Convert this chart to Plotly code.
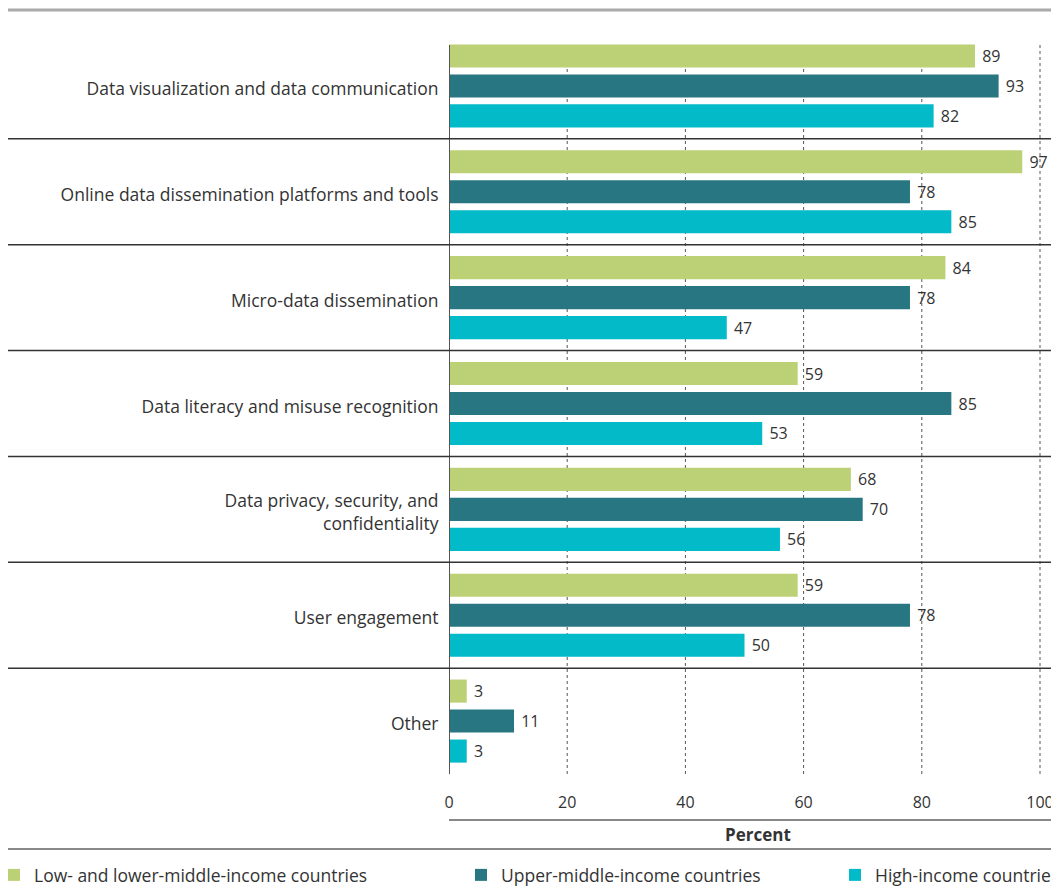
import plotly.graph_objects as go

categories = [
    "Data visualization and data communication",
    "Online data dissemination platforms and tools",
    "Micro-data dissemination",
    "Data literacy and misuse recognition",
    "Data privacy, security, and<br>confidentiality",
    "User engagement",
    "Other",
]
series_names = [
    "Low- and lower-middle-income countries",
    "Upper-middle-income countries",
    "High-income countries",
]
low_lower_middle = [89, 97, 84, 59, 68, 59, 3]
upper_middle = [93, 78, 78, 85, 70, 78, 11]
high_income = [82, 85, 47, 53, 56, 50, 3]
x_ticks = [0, 20, 40, 60, 80, 100]

colors = ["#BCD076", "#287681", "#03BAC8"]
FONT = "Open Sans"
TXT = "#333333"

# the page body adds an 8px margin, so the figure is laid out 8px smaller
OFF = 8
W, H = 1059 - OFF, 891 - OFF
L = 449 - OFF
T = 33 - OFF
B = H - (774 - OFF)
plot_w = W - L
plot_h = H - T - B
px_per_unit = 5.91


def px_x(px):
    """screen px (reference) -> paper x"""
    return (px - OFF - L) / plot_w


def px_y(py):
    """screen px (reference) -> paper y"""
    return (H - B - (py - OFF)) / plot_h


fig = go.Figure()
legends = ["legend", "legend2", "legend3"]
for name, vals, col, lg in zip(series_names, [low_lower_middle, upper_middle, high_income], colors, legends):
    fig.add_trace(go.Bar(
        y=categories, x=vals, orientation="h", name=name,
        marker=dict(color=col, line=dict(width=0)),
        text=["\u00a0" + str(v) for v in vals], textposition="outside",
        textfont=dict(family=FONT, size=16, color=TXT),
        cliponaxis=False, legend=lg,
    ))

shapes = []
# dotted gridlines
for v in x_ticks[1:]:
    shapes.append(dict(type="line", xref="x", yref="paper", x0=v, x1=v,
                       y0=0, y1=px_y(45), line=dict(color="#555555", width=1, dash="dot"),
                       layer="below"))
# zero line
shapes.append(dict(type="line", xref="x", yref="paper", x0=0, x1=0, y0=0, y1=px_y(45),
                   line=dict(color="#555555", width=2), layer="above"))
# category separators
for i in range(len(categories) - 1):
    shapes.append(dict(type="line", xref="paper", yref="y", x0=px_x(8), x1=1,
                       y0=i + 0.5, y1=i + 0.5, line=dict(color="#333333", width=1.5)))
# top rule
shapes.append(dict(type="line", xref="paper", yref="paper", x0=px_x(8), x1=1,
                   y0=px_y(10), y1=px_y(10), line=dict(color="#AAAAAA", width=3)))
# axis title rules
shapes.append(dict(type="line", xref="paper", yref="paper", x0=0, x1=1,
                   y0=px_y(820), y1=px_y(820), line=dict(color="#888888", width=2)))
shapes.append(dict(type="line", xref="paper", yref="paper", x0=px_x(8), x1=1,
                   y0=px_y(849), y1=px_y(849), line=dict(color="#888888", width=2)))

fig.update_layout(
    width=W, height=H,
    margin=dict(l=L, r=0, t=T, b=B, pad=0, autoexpand=False),
    paper_bgcolor="white", plot_bgcolor="white",
    barmode="group", bargap=0.15, bargroupgap=0.23,
    font=dict(family=FONT, size=16, color=TXT),
    shapes=shapes,
    xaxis=dict(range=[0, plot_w / px_per_unit], tickvals=x_ticks, showgrid=False,
               zeroline=False, showline=False, ticks="outside", ticklen=14,
               tickcolor="rgba(0,0,0,0)", automargin=False,
               tickfont=dict(family=FONT, size=16, color=TXT)),
    yaxis=dict(range=[len(categories) - 0.5, -0.5], showgrid=False, zeroline=False,
               showline=False, ticks="outside", ticklen=6, tickcolor="rgba(0,0,0,0)",
               ticklabelshift=-3,
               automargin=False, tickfont=dict(family=FONT, size=17.5, color=TXT)),
    annotations=[dict(text="<b>Percent</b>", xref="paper", yref="paper",
                      x=px_x(758), y=px_y(834), xanchor="center", yanchor="middle",
                      showarrow=False, font=dict(family=FONT, size=17, color=TXT))],
    showlegend=True,
)
leg_common = dict(orientation="h", yref="paper", y=px_y(875), yanchor="middle",
                  xanchor="left", bgcolor="rgba(0,0,0,0)",
                  font=dict(family=FONT, size=17.5, color=TXT), itemwidth=30,
                  tracegroupgap=0)
fig.update_layout(
    legend=dict(x=px_x(-6), **leg_common),
    legend2=dict(x=px_x(461), **leg_common),
    legend3=dict(x=px_x(835), **leg_common),
)

fig.write_html("out.html")
